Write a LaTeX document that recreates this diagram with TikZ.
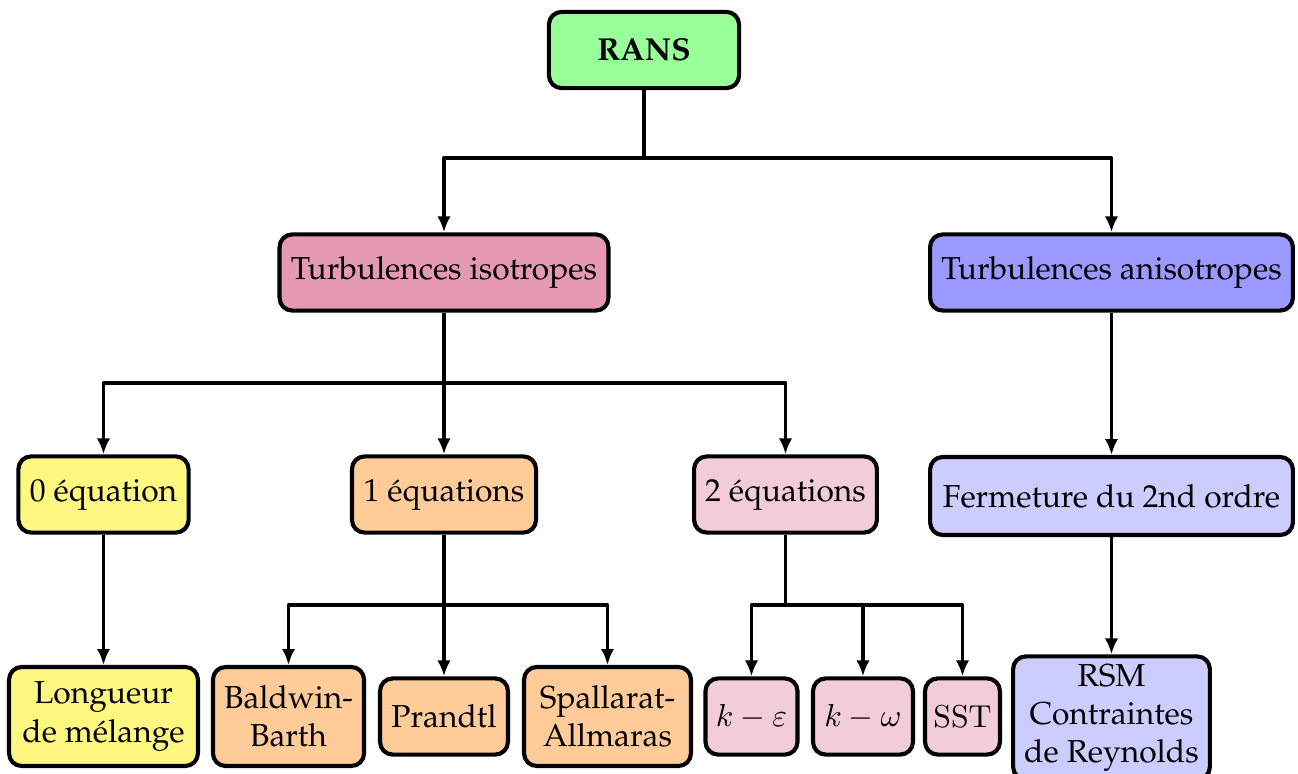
\documentclass[tikz,border=0pt]{standalone}
\usepackage[T1]{fontenc}
\renewcommand{\rmdefault}{ppl}
\usetikzlibrary{arrows.meta}
\begin{document}
\begin{tikzpicture}[x=0.315pt,y=-0.315pt,
  box/.style={draw,line width=1.3pt,rounded corners=4pt,align=center,
    inner xsep=2pt,inner ysep=2pt,minimum height=24pt},
  link/.style={line width=1.05pt,-{Latex[length=5pt,width=4.2pt]}},
  line join=round]
\useasboundingbox (0,0) rectangle (1298,774);
%%
  % Node: RANS
  \node[box,fill=green!40,minimum width=59.9pt] (rans) at (644,50) {\textbf{RANS}};
  % Node: level 1
  \node[box,fill=purple!40,minimum width=103.6pt] (iso) at (444,272.5) {Turbulences isotropes};
  \node[box,fill=blue!40,minimum width=114.3pt] (aniso) at (1111.5,272.5) {Turbulences anisotropes};
  % Node: level 2
  \node[box,fill=yellow!50,minimum width=53.6pt] (zero) at (103.5,494.5) {0 \'equation};
  \node[box,fill=orange!40,minimum width=58pt] (one) at (444,494.5) {1 \'equations};
  \node[box,fill=purple!20,minimum width=57.6pt] (two) at (785.5,494.5) {2 \'equations};
  \node[box,fill=blue!20,minimum width=114.3pt,minimum height=24.6pt] (ferm) at (1111.5,496) {Fermeture du 2nd ordre};
  % Node: level 3
  \node[box,fill=yellow!50,minimum width=59.5pt,minimum height=31.2pt] (mel) at (103.5,716.5) {Longueur\\de m\'elange};
  \node[box,fill=orange!40,minimum width=47.6pt,minimum height=31.2pt] (bb) at (288.5,716.5) {Baldwin-\\Barth};
  \node[box,fill=orange!40,minimum width=40.3pt] (pr) at (444,716.5) {Prandtl};
  \node[box,fill=orange!40,minimum width=52.6pt,minimum height=31.2pt] (sa) at (607.5,716.5) {Spallarat-\\Allmaras};
  \node[box,fill=purple!20,minimum width=29pt] (keps) at (751.5,716.5) {$k-\varepsilon$};
  \node[box,fill=purple!20,minimum width=31.5pt] (kom) at (863,716.5) {$k-\omega$};
  \node[box,fill=purple!20,minimum width=23.6pt] (sst) at (962.5,716.5) {$\mathrm{SST}$};
  \node[box,fill=blue!20,minimum width=62pt,minimum height=38.8pt] (rsm) at (1111.5,718) {RSM\\Contraintes\\de Reynolds};
  % Forks
  \coordinate (f0) at (644,158);
  \coordinate (f1) at (444,383);
  \coordinate (f2) at (444,605);
  \coordinate (f3) at (785.5,605);
  % Edge: RANS -> level 1
  \draw[line width=1.05pt] (rans) -- (f0);
  \draw[link] (f0) -| (iso);
  \draw[link] (f0) -| (aniso);
  % Edge: iso -> level 2
  \draw[line width=1.05pt] (iso) -- (f1);
  \draw[link] (f1) -| (zero);
  \draw[link] (f1) -- (one);
  \draw[link] (f1) -| (two);
  \draw[link] (aniso) -- (ferm);
  % Edge: level 2 -> level 3
  \draw[link] (zero) -- (mel);
  \draw[line width=1.05pt] (one) -- (f2);
  \draw[link] (f2) -| (bb);
  \draw[link] (f2) -- (pr);
  \draw[link] (f2) -| (sa);
  \draw[line width=1.05pt] (two) -- (f3);
  \draw[link] (f3) -| (keps);
  \draw[link] (f3) -| (kom);
  \draw[link] (f3) -| (sst);
  \draw[link] (ferm) -- (rsm);
%
\end{tikzpicture}
\end{document}
